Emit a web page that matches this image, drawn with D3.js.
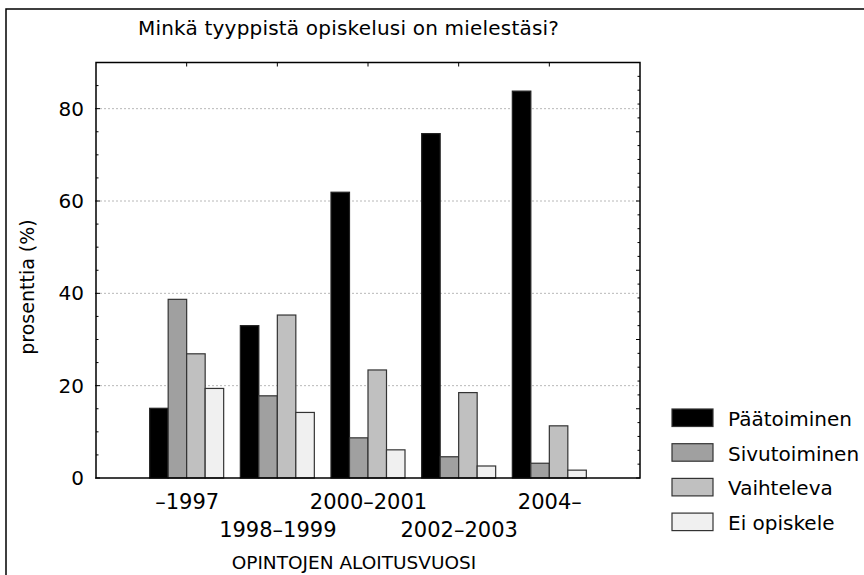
<!DOCTYPE html>
<html><head><meta charset="utf-8">
<script src="https://cdn.jsdelivr.net/npm/d3@7"></script>
<style>body{margin:0;background:#fff}svg{display:block}text{font-family:"DejaVu Sans",Verdana,sans-serif;fill:#000}</style>
</head><body>
<script>
const categories = ["–1997", "1998–1999", "2000–2001", "2002–2003", "2004–"];
const series = ["Päätoiminen", "Sivutoiminen", "Vaihteleva", "Ei opiskele"];
const colors = ["#000000", "#a0a0a0", "#c0c0c0", "#f0f0f0"];
const paatoiminen = [15.1, 33.0, 61.9, 74.6, 83.8];
const sivutoiminen = [38.7, 17.8, 8.7, 4.6, 3.2];
const vaihteleva = [26.9, 35.3, 23.4, 18.5, 11.3];
const eiOpiskele = [19.4, 14.2, 6.1, 2.6, 1.7];
const values = [paatoiminen, sivutoiminen, vaihteleva, eiOpiskele];
const yTicks = [0, 20, 40, 60, 80];
const title = "Minkä tyyppistä opiskelusi on mielestäsi?";
const yTitle = "prosenttia (%)";
const xTitle = "OPINTOJEN ALOITUSVUOSI";

const W = 864, H = 575;
const L = 96, R = 640, T = 62.5, B = 478;
const svg = d3.select("body").append("svg").attr("width", W).attr("height", H);

// outer frame
svg.append("rect").attr("x", 6).attr("y", 9).attr("width", 900).attr("height", 600)
  .attr("fill", "none").attr("stroke", "#000").attr("stroke-width", 1.5);

const x = d3.scalePoint().domain(categories).range([L, R]).padding(1);
const x1 = d3.scaleBand().domain(series).range([-37, 37]);
const y = d3.scaleLinear().domain([0, 90]).range([B, T]);

// grid
svg.append("g").selectAll("line").data(yTicks.filter(d => d > 0)).join("line")
  .attr("x1", L).attr("x2", R).attr("y1", d => y(d)).attr("y2", d => y(d))
  .attr("stroke", "#b8b8b8").attr("stroke-width", 1).attr("stroke-dasharray", "2,2");

// bars
const rows = [];
categories.forEach((c, i) => series.forEach((s, j) => rows.push({c, s, j, v: values[j][i]})));
svg.append("g").selectAll("rect").data(rows).join("rect")
  .attr("x", d => x(d.c) + x1(d.s))
  .attr("y", d => y(d.v))
  .attr("width", x1.bandwidth())
  .attr("height", d => y(0) - y(d.v))
  .attr("fill", d => colors[d.j])
  .attr("stroke", d => d.j === 0 ? "#222" : "#333")
  .attr("stroke-width", 1.2);

// left axis
const yAxis = d3.axisLeft(y).tickValues(yTicks).tickSize(0).tickPadding(12);
const ga = svg.append("g").attr("transform", `translate(${L},0)`).call(yAxis);
ga.select(".domain").remove();
ga.selectAll("text").style("font-size", "20px").style("font-family", '"DejaVu Sans",sans-serif').attr("fill", "#000");
// left ticks
svg.append("g").selectAll("line").data(d3.range(0, 91, 5)).join("line")
  .attr("x1", d => d % 20 === 0 ? L - 1 : L).attr("x2", d => d % 20 === 0 ? L + 4 : L + 2.5)
  .attr("y1", d => y(d)).attr("y2", d => y(d)).attr("stroke", "#000").attr("stroke-width", 1);
// right ticks
svg.append("g").selectAll("line").data(d3.range(0, 91, 3)).join("line")
  .attr("x1", d => d % 15 === 0 ? R - 4 : R - 2.5).attr("x2", R)
  .attr("y1", d => y(d)).attr("y2", d => y(d)).attr("stroke", "#000").attr("stroke-width", 1);
// top ticks
svg.append("g").selectAll("line").data(categories).join("line")
  .attr("x1", d => x(d)).attr("x2", d => x(d)).attr("y1", T).attr("y2", T + 4)
  .attr("stroke", "#000").attr("stroke-width", 1);

// bottom labels (staggered)
const xAxis = d3.axisBottom(x).tickSize(0).tickPadding(0);
const gx = svg.append("g").attr("transform", `translate(0,${B})`).call(xAxis);
gx.select(".domain").remove();
gx.selectAll("text").style("font-size", "21px").style("font-family", '"DejaVu Sans",sans-serif')
  .attr("fill", "#000").attr("dy", null)
  .attr("y", (d, i) => i % 2 === 0 ? 30.5 : 59);

// plot frame
svg.append("rect").attr("x", L).attr("y", T).attr("width", R - L).attr("height", B - T)
  .attr("fill", "none").attr("stroke", "#000").attr("stroke-width", 1.5);

// titles
svg.append("text").attr("x", 138).attr("y", 35).style("font-size", "20px").style("letter-spacing", "0.2px").text(title);
svg.append("text").attr("x", 354).attr("y", 569).attr("text-anchor", "middle").style("font-size", "18.5px").text(xTitle);
svg.append("text").attr("transform", `translate(34,287) rotate(-90)`).attr("text-anchor", "middle")
  .style("font-size", "19px").text(yTitle);

// legend
const lg = svg.append("g").selectAll("g").data(series).join("g")
  .attr("transform", (d, i) => `translate(672,${409 + i * 34.7})`);
lg.append("rect").attr("width", 41).attr("height", 17.5).attr("fill", (d, i) => colors[i])
  .attr("stroke", "#333").attr("stroke-width", 1.2);
lg.append("text").attr("x", 56).attr("y", 17).style("font-size", "20px").text(d => d);
</script>
</body></html>
